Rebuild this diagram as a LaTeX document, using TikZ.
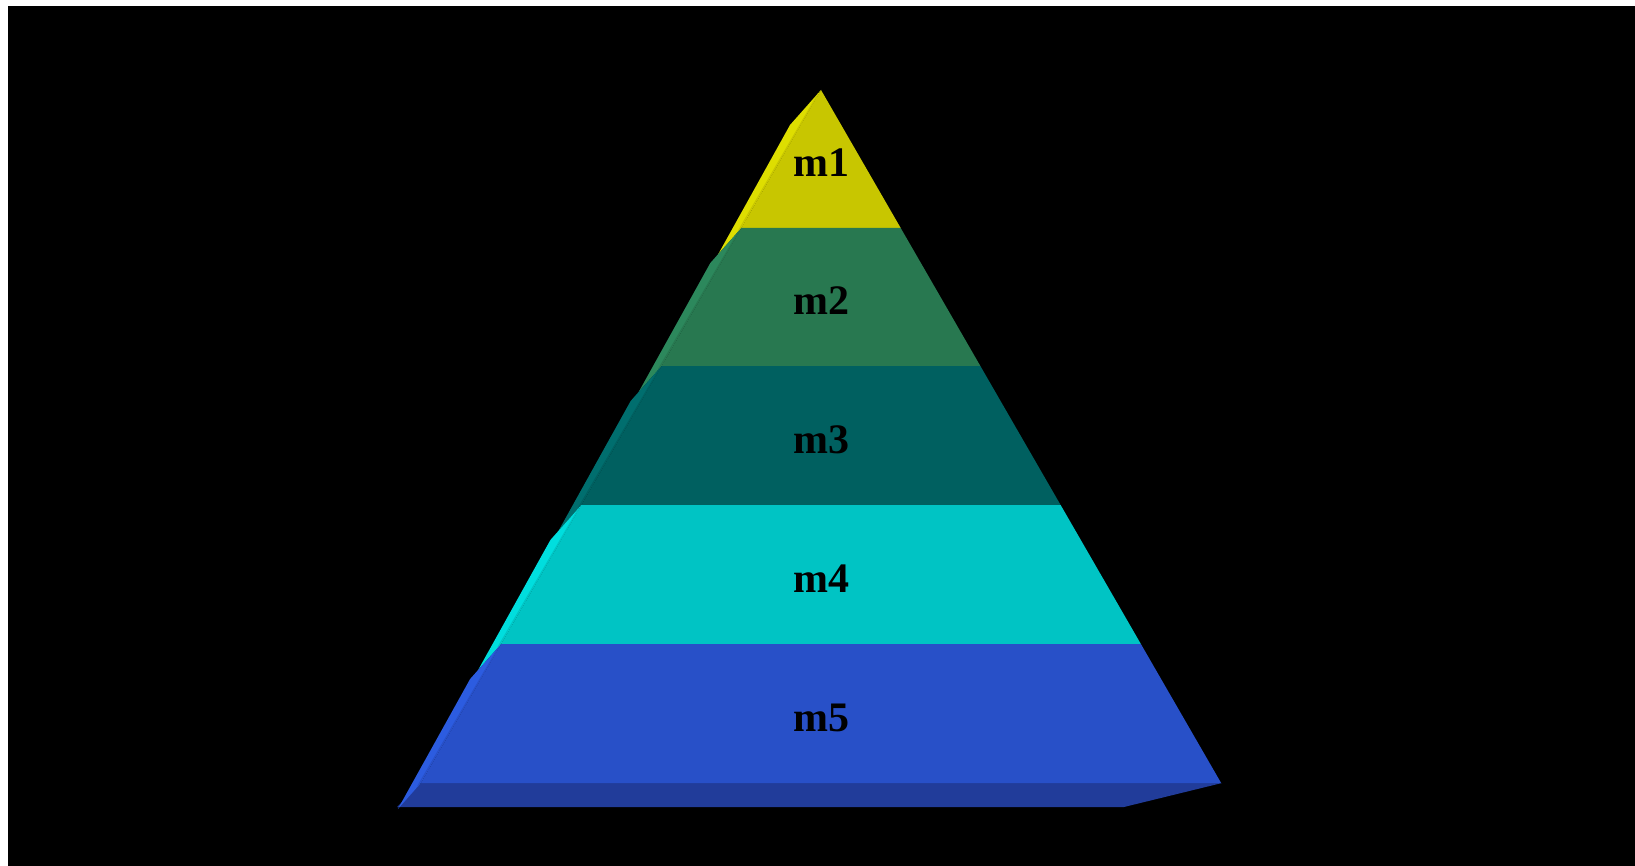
\documentclass[tikz,border=0pt]{standalone}
\usepackage{fontspec}
\setmainfont{Liberation Serif}
\definecolor{fa}{RGB}{200,198,0}
\definecolor{sa}{RGB}{222,222,0}
\definecolor{fb}{RGB}{40,120,80}
\definecolor{sb}{RGB}{44,136,92}
\definecolor{fc}{RGB}{0,96,96}
\definecolor{sc}{RGB}{0,110,110}
\definecolor{fd}{RGB}{0,196,196}
\definecolor{sd}{RGB}{0,222,222}
\definecolor{fe}{RGB}{40,80,200}
\definecolor{se}{RGB}{44,92,224}
\definecolor{plinth}{RGB}{33,60,154}
\tikzset{lab/.style={font=\bfseries\fontsize{42}{42}\selectfont, text=black, inner sep=0pt}}
\begin{document}
\begin{tikzpicture}[x=1pt,y=-1pt]
\useasboundingbox (0,0) rectangle (1635,866);
\fill[white] (0,0) rectangle (1635,866);
\fill[black] (8,6) rectangle (1635,866);
\fill[plinth] (397,807) -- (1124,807) -- (1222,783) -- (421,783) -- cycle;
\foreach \yt/\yb/\fcol/\scol/\lab in {90/228/fa/sa/m1,228/366/fb/sb/m2,366/505/fc/sc/m3,505/644/fd/sd/m4,644/783/fe/se/m5}{
  \pgfmathsetmacro\xlt{821-0.5774*(\yt-90)}
  \pgfmathsetmacro\xlb{821-0.5774*(\yb-90)}
  \pgfmathsetmacro\xrt{1642-\xlt}
  \pgfmathsetmacro\xrb{1642-\xlb}
  \pgfmathsetmacro\ym{(\yt+\yb)/2+4}
  \fill[\scol] (\xlt,\yt) -- ({\xlt-31},{\yt+35}) -- ({\xlb-23},{\yb+26}) -- (\xlb,\yb) -- cycle;
  \draw[\fcol, line width=1.2pt] ({\xlt-3},{\yt+4}) -- ({\xlb-3},{\yb+3});
  \fill[\fcol] (\xlt,\yt) -- (\xrt,\yt) -- (\xrb,\yb) -- (\xlb,\yb) -- cycle;
  \node[lab] (n\lab) at (821,\ym) {\lab};
}
\end{tikzpicture}
\end{document}
